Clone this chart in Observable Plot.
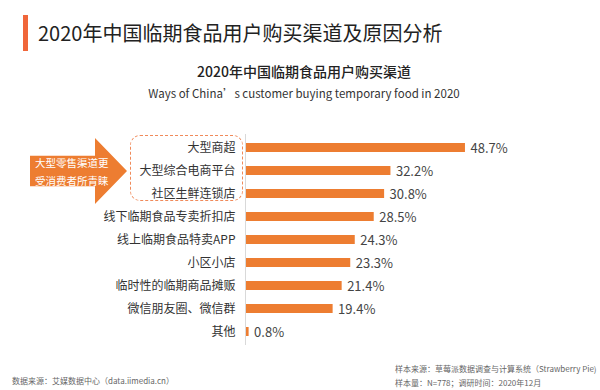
<!DOCTYPE html>
<html><head><meta charset="utf-8">
<script src="https://cdn.jsdelivr.net/npm/d3@7"></script>
<script src="https://cdn.jsdelivr.net/npm/@observablehq/plot@0.6"></script>
<style>
html,body{margin:0;padding:0;background:#fff;}
body{width:600px;height:390px;position:relative;overflow:hidden;font-family:"Noto Sans CJK SC","Noto Sans",sans-serif;color:#333;}
.abs{position:absolute;white-space:nowrap;}
#hbar{left:23px;top:15px;width:5px;height:36px;background:#f0663a;}
#htitle{left:38px;top:18px;font-size:20px;color:#222;line-height:30px;}
#ctitle{left:0;width:608px;text-align:center;top:61px;font-size:14px;font-weight:500;color:#222;}
#csub{left:0;width:608px;text-align:center;top:85px;font-size:11.5px;color:#333;}
#chart{left:0;top:120px;}
#arrow{left:30px;top:138px;width:97px;height:66px;background:#ed7d31;
 clip-path:polygon(0 27%,67% 27%,67% 0,100% 50%,67% 100%,67% 73%,0 73%);}
#atext{left:35px;top:154px;font-size:10.5px;color:#fff;line-height:18px;}
#dash{left:130px;top:135px;width:111px;height:64px;border:1.3px dashed #f08a5a;border-radius:10px;}
.foot{font-size:8px;color:#666;}
</style></head>
<body>
<div class="abs" id="hbar"></div>
<div class="abs" id="htitle">2020年中国临期食品用户购买渠道及原因分析</div>
<div class="abs" id="ctitle">2020年中国临期食品用户购买渠道</div>
<div class="abs" id="csub">Ways of China’s customer buying temporary food in 2020</div>
<div class="abs" id="chart"></div>
<div class="abs" id="dash"></div>
<div class="abs" id="arrow"></div>
<div class="abs" id="atext">大型零售渠道更<br>受消费者所青睐</div>
<div class="abs foot" style="left:12px;top:375px;">数据来源：艾媒数据中心（data.iimedia.cn）</div>
<div class="abs foot" style="left:395px;top:363px;">样本来源：草莓派数据调查与计算系统（Strawberry Pie)</div>
<div class="abs foot" style="left:395px;top:377px;">样本量：N=778；调研时间：2020年12月</div>
<script>
const channels = ["大型商超","大型综合电商平台","社区生鲜连锁店","线下临期食品专卖折扣店","线上临期食品特卖APP","小区小店","临时性的临期商品摊贩","微信朋友圈、微信群","其他"];
const shares = [48.7,32.2,30.8,28.5,24.3,23.3,21.4,19.4,0.8];
const data = channels.map((c,i)=>({channel:c, share:shares[i]}));
const chart = Plot.plot({
  width:600, height:240,
  marginLeft:245, marginRight:84, marginTop:14, marginBottom:15,
  style:{fontFamily:'"Noto Sans CJK SC","Noto Sans",sans-serif', background:"transparent"},
  x:{domain:[0,60], axis:null},
  y:{domain:channels, paddingInner:0.62, paddingOuter:0.31, label:null, tickSize:0, tickPadding:10},
  marks:[
    Plot.barX(data,{y:"channel", x:"share", fill:"#ed7d31"}),
    Plot.ruleX([0],{stroke:"#d9d9d9"}),
    Plot.text(data,{y:"channel", x:"share", text:d=>d.share.toFixed(1)+"%", textAnchor:"start", dx:5, dy:1, fontSize:13, fill:"#444"}),
    Plot.axisY({tickSize:0, tickPadding:10, fontSize:12, label:null, color:"#333"})
  ]
});
document.getElementById("chart").appendChild(chart);
</script>
</body></html>
